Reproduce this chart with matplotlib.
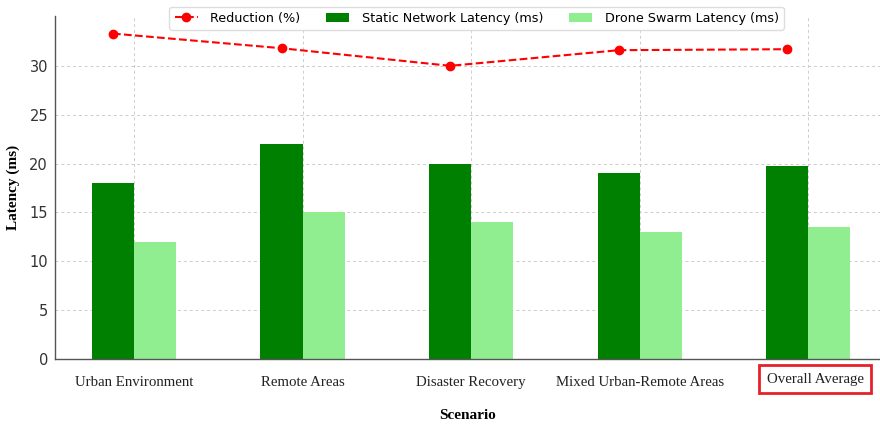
import numpy as np
import matplotlib
matplotlib.use("Agg")
import matplotlib.pyplot as plt
from matplotlib.transforms import ScaledTranslation

scenarios = ["Urban Environment", "Remote Areas", "Disaster Recovery",
             "Mixed Urban-Remote Areas", "Overall Average"]
static_latency = [18, 22, 20, 19, 19.75]
drone_latency  = [12, 15, 14, 13, 13.5]
reduction      = [33.3, 31.8, 30.0, 31.6, 31.7]

x     = np.arange(len(scenarios))
width = 0.25

fig = plt.figure(figsize=(8.8, 4.25), dpi=100)
ax  = fig.add_axes([0.0625, 0.1553, 0.9375, 0.8071])

ax.bar(x, static_latency, width, color="green", label="Static Network Latency (ms)", zorder=2)
ax.bar(x + width, drone_latency, width, color="lightgreen", label="Drone Swarm Latency (ms)", zorder=2)
ax.plot(x, reduction, "o--", color="red", lw=1.5, ms=6, label="Reduction (%)", zorder=3)

ax.set_xlim(-0.344, 4.55)
ax.set_ylim(0, 35.1)
ax.set_yticks(range(0, 31, 5))
ax.set_xticks(x + width / 2)
ax.set_xticklabels(scenarios, family="Liberation Serif", fontsize=10.7, color="#222222")
ax.tick_params(axis="x", length=0, pad=12)
ax.tick_params(axis="y", length=0, pad=5, labelsize=10.5, labelcolor="#333333")

ax.grid(True, linestyle=(0, (3, 3)), color="#cccccc", lw=0.7)
ax.set_axisbelow(True)
for s in ["top", "right"]:
    ax.spines[s].set_visible(False)
for s in ["left", "bottom"]:
    ax.spines[s].set_color("#555555")
    ax.spines[s].set_linewidth(1.0)

ax.set_xlabel("Scenario", family="Liberation Serif", fontweight="bold", fontsize=11, labelpad=15)
ax.set_ylabel("Latency (ms)", family="Liberation Serif", fontweight="bold", fontsize=11, labelpad=7)

# red box around the last label
last = ax.get_xticklabels()[-1]
last.set_bbox(dict(boxstyle="square,pad=0.5", facecolor="white", edgecolor="#e8202a", lw=2))
last.set_transform(last.get_transform() + ScaledTranslation(7 / 100, 3 / 100, fig.dpi_scale_trans))

ax.legend(loc="upper center", bbox_to_anchor=(0.511, 1.046), ncol=3, fontsize=9.2,
          framealpha=1, edgecolor="#dddddd", handlelength=1.8, handletextpad=1.0,
          columnspacing=2.0)

fig.savefig("out.png", dpi=100)
